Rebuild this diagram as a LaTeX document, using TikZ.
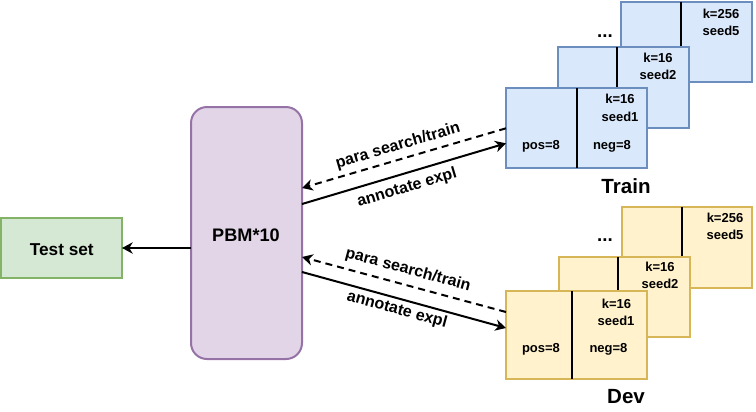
\documentclass[tikz,border=0pt]{standalone}
\usepackage{fontspec}
\setmainfont{Liberation Sans}
\usetikzlibrary{arrows.meta,calc}
\definecolor{bluefill}{HTML}{DAE8FC}
\definecolor{bluedraw}{HTML}{6C8EBF}
\definecolor{yelfill}{HTML}{FFF2CC}
\definecolor{yeldraw}{HTML}{D6B656}
\definecolor{grnfill}{HTML}{D5E8D4}
\definecolor{grndraw}{HTML}{82B366}
\definecolor{purfill}{HTML}{E1D5E7}
\definecolor{purdraw}{HTML}{9673A6}
\begin{document}
\begin{tikzpicture}[x=0.75pt,y=-0.75pt,
  box/.style={draw, line width=1.5pt, outer sep=0pt, inner sep=0pt},
  trainbox/.style={box, fill=bluefill, draw=bluedraw},
  devbox/.style={box, fill=yelfill, draw=yeldraw},
  divider/.style={draw=black, line width=1.5pt},
  small/.style={font=\fontsize{9.75}{11}\selectfont\bfseries, inner sep=0pt, anchor=base},
  lbl/.style={font=\fontsize{12}{14}\selectfont\bfseries, inner sep=0pt},
  big/.style={font=\fontsize{15.4}{18}\selectfont\bfseries, inner sep=0pt, anchor=base},
  dots/.style={font=\fontsize{14}{16}\selectfont\bfseries, inner sep=0pt, anchor=base},
  conn/.style={line width=1.5pt, -{Stealth[length=8pt,width=8.5pt,inset=2.5pt]}},
  dconn/.style={conn, dash pattern=on 5.25pt off 3.75pt}
]
\useasboundingbox (0,0) rectangle (756,411);

% Test set and PBM
\node[box, fill=grnfill, draw=grndraw, minimum width=90.75pt, minimum height=45pt] (test) at (61.5,248) {};
\node[small, font=\fontsize{12.9}{15}\selectfont\bfseries] (testt) at (61.8,255) {Test set};
\node[box, fill=purfill, draw=purdraw, rounded corners=12pt, minimum width=83.25pt, minimum height=189pt] (pbm) at (246.5,233) {};
\node[small, font=\fontsize{13.6}{16}\selectfont\bfseries] (pbmt) at (246,241.7) {PBM*10};

% Train stack
\node[trainbox, minimum width=98.25pt, minimum height=60pt] (trB) at (686.5,41.5) {};
\draw[divider] ([xshift=-4.1pt]trB.north) -- ([xshift=-4.1pt]trB.south);
\node[small] (trBk) at (721,18.3) {k=256};
\node[small] (trBs) at (721,35.7) {seed5};
\node[trainbox, minimum width=98.25pt, minimum height=60.75pt] (trM) at (623,87.5) {};
\draw[divider] ([xshift=-4.5pt]trM.north) -- ([xshift=-4.5pt]trM.south);
\node[small] (trMk) at (658,62.3) {k=16};
\node[small] (trMs) at (658,79) {seed2};
\node[trainbox, minimum width=105.75pt, minimum height=60pt] (trF) at (576.5,128.3) {};
\draw[divider] ([xshift=0.4pt]trF.north) -- ([xshift=0.4pt]trF.south);
\node[small] (trFk) at (620,103.3) {k=16};
\node[small] (trFs) at (620,121.7) {seed1};
\node[small] (trFp) at (541,149.3) {pos=8};
\node[small] (trFn) at (612,149.3) {neg=8};
\node[dots] (trD) at (605,37.5) {...};
\node[big] (trT) at (626,193.3) {Train};

% Dev stack
\node[devbox, minimum width=97.5pt, minimum height=60.75pt] (dvB) at (687,247.5) {};
\draw[divider] ([xshift=-3.75pt]dvB.north) -- ([xshift=-3.75pt]dvB.south);
\node[small] (dvBk) at (725,222.7) {k=256};
\node[small] (dvBs) at (725,239.3) {seed5};
\node[devbox, minimum width=98.25pt, minimum height=60pt] (dvM) at (624.5,297) {};
\draw[divider] ([xshift=-4.9pt]dvM.north) -- ([xshift=-4.9pt]dvM.south);
\node[small] (dvMk) at (660,271.7) {k=16};
\node[small] (dvMs) at (660,288.3) {seed2};
\node[devbox, minimum width=105.75pt, minimum height=66pt] (dvF) at (576.5,335) {};
\draw[divider] ([xshift=-3.4pt]dvF.north) -- ([xshift=-3.4pt]dvF.south);
\node[small] (dvFk) at (616.5,308) {k=16};
\node[small] (dvFs) at (616,325.7) {seed1};
\node[small] (dvFp) at (541,352.7) {pos=8};
\node[small] (dvFn) at (608.5,352.7) {neg=8};
\node[dots] (dvD) at (605,241.5) {...};
\node[big] (dvT) at (626,403.3) {Dev};

% Connectors
\draw[conn] (pbm.west |- test.east) -- (test.east);
\draw[dconn] ([yshift=0pt]trF.west) -- ([yshift=33.75pt]pbm.east);
\draw[conn] ([yshift=21.75pt]pbm.east) -- ([yshift=-11.25pt]trF.west);
\draw[dconn] ([yshift=17.25pt]dvF.west) -- ([yshift=-18pt]pbm.east);
\draw[conn] ([yshift=-29.25pt]pbm.east) -- ([yshift=5.25pt]dvF.west);

% Connector labels
\node[lbl, rotate=16.4] (l1) at (398,146) {para search/train};
\node[lbl, rotate=16.6] (l2) at (407,188) {annotate expl};
\node[lbl, rotate=-15.1] (l3) at (408,270) {para search/train};
\node[lbl, rotate=-15.3] (l4) at (397,310) {annotate expl};
\end{tikzpicture}
\end{document}
